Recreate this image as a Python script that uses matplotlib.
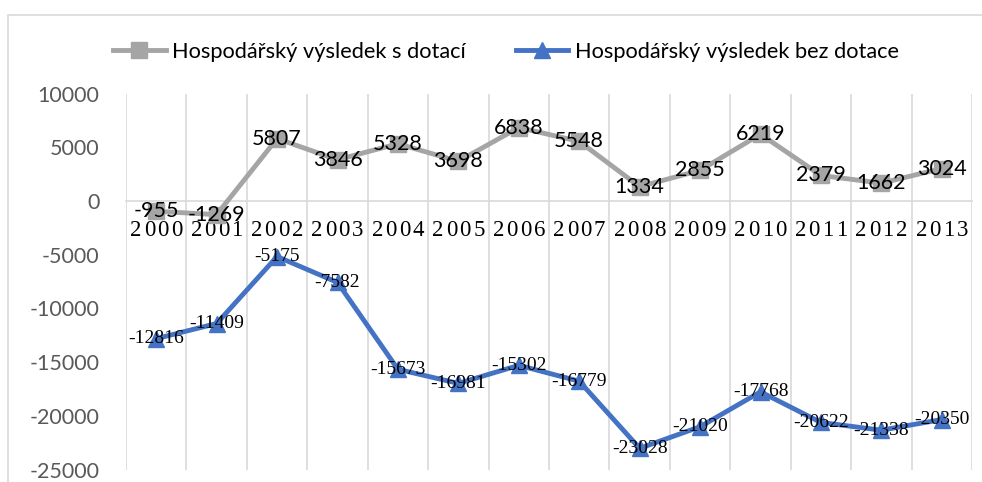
import matplotlib
matplotlib.use("Agg")
import matplotlib.pyplot as plt
from matplotlib.patches import Rectangle

years = ["2000", "2001", "2002", "2003", "2004", "2005", "2006",
         "2007", "2008", "2009", "2010", "2011", "2012", "2013"]
s_dotaci = [-955, -1269, 5807, 3846, 5328, 3698, 6838,
            5548, 1334, 2855, 6219, 2379, 1662, 3024]
bez_dotace = [-12816, -11409, -5175, -7582, -15673, -16981, -15302,
              -16779, -23028, -21020, -17768, -20622, -21338, -20350]

GRAY = "#A5A5A5"
BLUE = "#4472C4"
GRID = "#D9D9D9"
SANS = ["Lato", "DejaVu Sans"]
SERIF = ["Liberation Serif", "DejaVu Serif"]

W, H = 982, 482
fig = plt.figure(figsize=(W / 100, H / 100), dpi=100)

# chart frame (cropped on the right and bottom in the reference)
fig.patches.append(Rectangle((8 / W, -0.1), 1.1, (H - 15) / H + 0.1,
                             transform=fig.transFigure, fill=False,
                             edgecolor=GRID, linewidth=1.2))

ax = fig.add_axes([126 / W, 12.5 / H, (972 - 126) / W, (469.5 - 93.6) / H])
x = list(range(len(years)))

l1, = ax.plot(x, s_dotaci, color=GRAY, linewidth=3.5, marker="s",
              markersize=11, label="Hospodářský výsledek s dotací", zorder=3)
l2, = ax.plot(x, bez_dotace, color=BLUE, linewidth=3.5, marker="^",
              markersize=12, label="Hospodářský výsledek bez dotace", zorder=3)

for xi, v in zip(x, s_dotaci):
    ax.text(xi, v, str(v), ha="center", va="center", fontsize=15.5,
            family=SANS, color="black", zorder=4)
for xi, v in zip(x, bez_dotace):
    ax.text(xi, v, str(v), ha="center", va="center", fontsize=14,
            family=SERIF, color="black", zorder=4)

ax.set_xlim(-0.5, len(years) - 0.5)
ax.set_ylim(-25000, 10000)
ax.set_yticks(range(-25000, 10001, 5000))
ax.set_yticklabels([str(t) for t in range(-25000, 10001, 5000)],
                   family=SANS, fontsize=15.5, color="#595959")

# vertical gridlines between categories
for b in range(len(years) + 1):
    ax.axvline(b - 0.5, color=GRID, linewidth=1.2, zorder=1)

# year labels: spaced-out serif digits just under the zero line
ax.set_xticks(x)
ax.set_xticklabels([])
for xi, y in zip(x, years):
    n = len(y)
    for k, ch in enumerate(y):
        ax.annotate(ch, (xi, 0), xytext=((k - (n - 1) / 2) * 9.8, -21),
                    textcoords="offset points", ha="center", va="center",
                    family=SERIF, fontsize=16.5, color="black", zorder=2)

ax.spines["bottom"].set_position(("data", 0))
ax.spines["bottom"].set_color(GRID)
ax.spines["bottom"].set_linewidth(1.2)
ax.spines["bottom"].set_zorder(1)
for s in ["top", "right", "left"]:
    ax.spines[s].set_visible(False)
ax.tick_params(axis="x", length=0)
ax.tick_params(axis="y", length=0, pad=19)

fig.legend(handles=[l1, l2], loc="center", bbox_to_anchor=(506 / W, 1 - 52 / H),
           ncol=2, frameon=False, prop={"family": SANS, "size": 15.7},
           handlelength=2.4, handletextpad=0.3, columnspacing=2.3)

fig.savefig("out.png", dpi=100)
